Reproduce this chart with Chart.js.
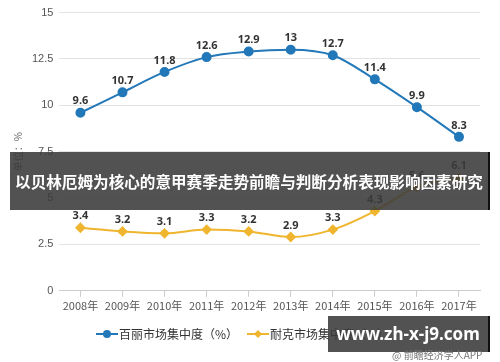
<!DOCTYPE html>
<html lang="zh">
  <head>
    <meta charset="UTF-8" />
    <title>百丽与耐克市场集中度</title>
    <script src="https://cdn.jsdelivr.net/npm/chart.js@4.4.0/dist/chart.umd.min.js"></script>
    <style>
      body { margin: 0; background: #fff; }
      #wrap { position: relative; width: 500px; height: 362px; font-family: "Noto Sans CJK SC", "Noto Sans", sans-serif; }
      #banner { position: absolute; left: 10px; top: 152px; width: 480px; height: 58px; background: rgba(58,58,58,0.88);
        color: #fff; font-weight: bold; font-size: 15.6px; line-height: 58px; text-align: center; white-space: nowrap; border-right: 2px solid #111; box-sizing: border-box; overflow: hidden; }
      #site { position: absolute; left: 328px; top: 316px; width: 162px; height: 36px; background: rgba(58,58,58,0.88);
        color: #fff; font-weight: bold; font-size: 17px; line-height: 36px; text-align: center; white-space: nowrap; border-right: 2px solid #111; box-sizing: border-box; font-family: "Noto Sans", sans-serif; }
      #src { position: absolute; left: 392px; top: 347px; font-size: 10px; color: #777; }
    </style>
  </head>
  <body>
    <div id="wrap">
      <canvas id="myChart" width="500" height="362"></canvas>
      <div id="banner">以贝林厄姆为核心的意甲赛季走势前瞻与判断分析表现影响因素研究</div>
      <div id="site">www.zh-x-j9.com</div>
      <div id="src">@ 前瞻经济学人APP</div>
    </div>

    <script>
      const years = ['2008年', '2009年', '2010年', '2011年', '2012年', '2013年', '2014年', '2015年', '2016年', '2017年']
      const belle = [9.6, 10.7, 11.8, 12.6, 12.9, 13, 12.7, 11.4, 9.9, 8.3]
      const nike = [3.4, 3.2, 3.1, 3.3, 3.2, 2.9, 3.3, 4.3, 5.6, 6.1]

      const blue = '#2278b8'
      const gold = '#f0b52e'

      // legend marker: short line with the point on it
      function legendIcon(color, diamond) {
        const c = document.createElement('canvas')
        c.width = 22; c.height = 10
        const g = c.getContext('2d')
        g.strokeStyle = color; g.fillStyle = color; g.lineWidth = 2
        g.beginPath(); g.moveTo(0, 5); g.lineTo(22, 5); g.stroke()
        g.beginPath()
        if (diamond) { g.moveTo(11, 1); g.lineTo(15, 5); g.lineTo(11, 9); g.lineTo(7, 5); g.closePath() }
        else g.arc(11, 5, 4, 0, Math.PI * 2)
        g.fill()
        return c
      }

      // labels above each point
      const pointLabels = {
        id: 'pointLabels',
        afterDatasetsDraw(chart) {
          const ctx = chart.ctx
          ctx.save()
          ctx.font = 'bold 11px "Noto Sans", sans-serif'
          ctx.fillStyle = '#333'
          ctx.textAlign = 'center'
          ctx.textBaseline = 'bottom'
          chart.data.datasets.forEach((ds, i) => {
            chart.getDatasetMeta(i).data.forEach((pt, j) => {
              ctx.fillText(ds.data[j], pt.x, pt.y - 6)
            })
          })
          ctx.restore()
        }
      }

      const ctx = document.getElementById('myChart').getContext('2d')
      new Chart(ctx, {
        type: 'line',
        data: {
          labels: years,
          datasets: [{
            label: '百丽市场集中度（%）',
            data: belle,
            borderColor: blue,
            backgroundColor: blue,
            borderWidth: 2,
            pointRadius: 4,
            pointStyle: 'circle',
            tension: 0.4,
            cubicInterpolationMode: 'monotone',
            fill: false
          }, {
            label: '耐克市场集中度（%）',
            data: nike,
            borderColor: gold,
            backgroundColor: gold,
            borderWidth: 2,
            pointRadius: 4,
            pointStyle: 'rectRot',
            tension: 0.4,
            cubicInterpolationMode: 'monotone',
            fill: false
          }]
        },
        options: {
          responsive: false,
          animation: false,
          layout: { padding: { top: -4, left: 10, right: 20, bottom: 12 } },
          plugins: {
            legend: {
              position: 'bottom',
              labels: {
                usePointStyle: true,
                padding: 14,
                color: '#333',
                font: { size: 12, family: '"Noto Sans CJK SC", sans-serif' },
                generateLabels(chart) {
                  return chart.data.datasets.map((ds, i) => ({
                    text: ds.label,
                    fontColor: '#333',
                    pointStyle: legendIcon(ds.borderColor, i === 1),
                    datasetIndex: i,
                    hidden: false,
                    lineWidth: 0
                  }))
                }
              }
            },
            tooltip: { enabled: false }
          },
          scales: {
            x: {
              offset: true,
              grid: { offset: false, drawOnChartArea: false, tickLength: 6, color: '#ccc' },
              border: { color: '#ccc' },
              ticks: { color: '#555', font: { size: 11, family: '"Noto Sans CJK SC", sans-serif' }, padding: 2 }
            },
            y: {
              min: 0, max: 15,
              ticks: { stepSize: 2.5, color: '#555', font: { size: 11 }, padding: 6 },
              grid: { color: '#e2e2e2', drawTicks: false },
              border: { display: false },
              title: { display: true, text: '单位：%', color: '#666', font: { size: 10, family: '"Noto Sans CJK SC", sans-serif' }, padding: 2 }
            }
          }
        },
        plugins: [pointLabels]
      })
    </script>
  </body>
</html>
